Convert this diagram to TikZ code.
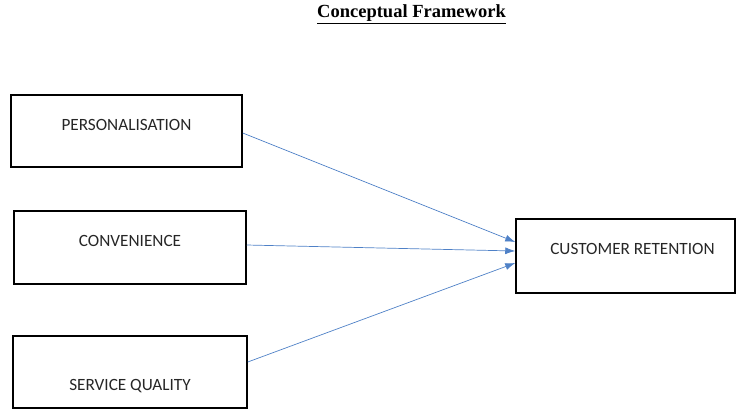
\documentclass[tikz,border=0pt]{standalone}
\usepackage{fontspec}
\setmainfont{Carlito}
\newfontfamily\titlefont{Liberation Serif}
\usetikzlibrary{arrows.meta}
\definecolor{arrowblue}{RGB}{79,129,199}
\begin{document}
\begin{tikzpicture}[x=1pt, y=-1pt,
  every node/.style = {inner sep=0pt},
  every label/.style = {font=\fontsize{17.2}{20}\selectfont, text=black!85},
  factor/.style = {shape=rectangle, draw, line width=1.5pt,
    minimum width=231pt, minimum height=72pt},
  edge to/.style = {-{Latex[length=10pt,width=7pt]}, draw=arrowblue, line width=0.7pt}
  ]
  \useasboundingbox (0,0) rectangle (736,410);
  \node (title) at (411.5,14) {\titlefont\bfseries\fontsize{18.5}{22}\selectfont\underline{Conceptual Framework}};
  \node [factor, label={[yshift=6pt]center:PERSONALISATION}] (pers) at (126.5,131) {};
  \node [factor, minimum width=232pt, minimum height=73pt, label={[yshift=6.5pt]center:CONVENIENCE}] (conv) at (130,247.5) {};
  \node [factor, minimum width=234pt, label={[yshift=-14pt]center:SERVICE QUALITY}] (serv) at (130,372) {};
  \node [factor, minimum width=219pt, minimum height=74pt, label={[xshift=7pt, yshift=7pt]center:CUSTOMER RETENTION}] (cust) at (625.5,256) {};
  \draw [edge to] ([yshift=-2pt]pers.east) -- ([yshift=14pt]cust.west);
  \draw [edge to] ([yshift=2.5pt]conv.east) -- ([yshift=5pt]cust.west);
  \draw [edge to] ([yshift=10pt]serv.east) -- ([yshift=-7pt]cust.west);
\end{tikzpicture}
\end{document}
